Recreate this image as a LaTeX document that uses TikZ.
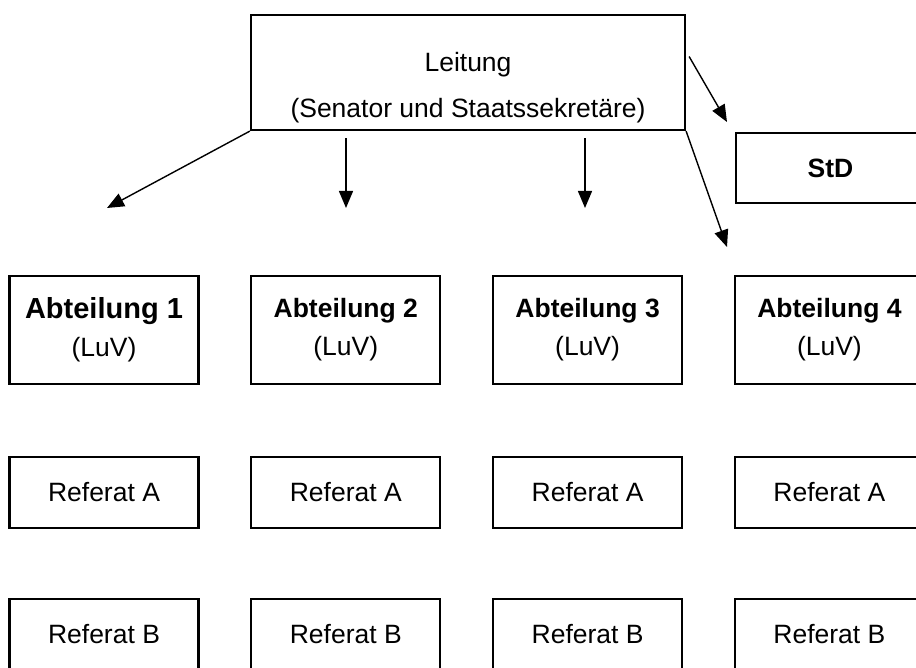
\documentclass[tikz,border=0pt]{standalone}
\usepackage{fontspec}
\setmainfont{Liberation Sans}
\usepackage{tikz}
\usetikzlibrary{arrows.meta,positioning}

\begin{document}
\begin{tikzpicture}[x=0.5pt, y=0.5pt,
    box/.style={rectangle, draw, line width=1.1pt, align=center, font=\fontsize{13.25}{16}\selectfont, minimum width=94.5pt},
    abt/.style={box, minimum height=54pt},
    ref/.style={box, minimum height=35.5pt},
    line/.style={draw, line width=0.7pt, -{Triangle[length=8.5pt, width=7pt]}}]

    \useasboundingbox (0,0) rectangle (916,668);

    \node [box, minimum width=217pt, minimum height=57.5pt] (leitung) at (468,595.5) {\rule{0pt}{25pt}Leitung\\[7pt](Senator und Staatssekretäre)};
    \node [box, minimum height=35pt, font=\fontsize{13.25}{16}\selectfont\bfseries] (std) at (830.5,500) {StD};

    \node [abt] (abt1) at (104,338) {{\fontsize{14.5}{17}\selectfont\bfseries Abteilung 1}\\[3pt](LuV)};
    \node [abt, right=25.3pt of abt1] (abt2) {\textbf{Abteilung 2}\\[3pt](LuV)};
    \node [abt, right=25.3pt of abt2] (abt3) {\textbf{Abteilung 3}\\[3pt](LuV)};
    \node [abt, right=25.3pt of abt3] (abt4) {\textbf{Abteilung 4}\\[3pt](LuV)};

    \node [ref, below=35.4pt of abt1] (refa1) {Referat A};
    \node [ref, below=35.4pt of abt2] (refa2) {Referat A};
    \node [ref, below=35.4pt of abt3] (refa3) {Referat A};
    \node [ref, below=35.4pt of abt4] (refa4) {Referat A};

    \node [ref, below=34.4pt of refa1] (refb1) {Referat B};
    \node [ref, below=34.4pt of refa2] (refb2) {Referat B};
    \node [ref, below=34.4pt of refa3] (refb3) {Referat B};
    \node [ref, below=34.4pt of refa4] (refb4) {Referat B};

    % open arrow ends
    \coordinate (to1) at (107,460);
    \coordinate (to2) at (346,460);
    \coordinate (to3) at (585,460);
    \coordinate (to4) at (727,421);
    \coordinate (tostd) at (727,546);

    \path [line] (leitung.south west) -- (to1);
    \path [line, shorten <=3.5pt] (to2 |- leitung.south) -- (to2);
    \path [line, shorten <=3.5pt] (to3 |- leitung.south) -- (to3);
    \path [line] (leitung.south east) -- (to4);
    \path [line] ([shift={(3,16)}]leitung.east) -- (tostd);
\end{tikzpicture}
\end{document}
